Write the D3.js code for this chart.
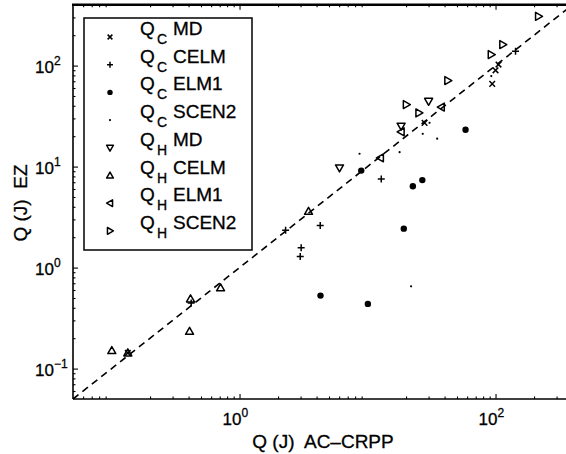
<!DOCTYPE html>
<html><head><meta charset="utf-8">
<script src="https://cdn.jsdelivr.net/npm/d3@7"></script>
<style>
body{margin:0;background:#fff}
svg{display:block}
text{font-family:"Liberation Sans",Arial,Helvetica,sans-serif;fill:#000;stroke:#000;stroke-width:0.3px}
</style>
</head><body><svg id="c" width="566" height="454"></svg>
<script>
// ---- data (Q in J) : [AC-CRPP, EZ] ----
const qcMD    = [[105.5,102.3],[100,89.8],[94.2,65.9],[27.9,27.1],[0.134,0.143]];
const qcCELM  = [[143.3,138.6],[2.29,2.34],[4.27,2.61],[3.03,1.57],[2.98,1.29],[0.419,0.447],[12.8,7.55]];
const qcELM1  = [[58.3,23.2],[26.8,7.35],[22.6,6.38],[19.2,2.43],[4.29,0.528],[10.06,0.437],[8.93,9.13]];
const qcSCEN2 = [[92.6,78.7],[30.5,27.1],[27.0,21.1],[35.0,18.9],[17.8,13.9],[8.66,13.4],[21.9,0.653]];
const qhMD    = [[6.04,9.71],[30.0,44.3],[18.3,25.1]];
const qhCELM  = [[0.1005,0.151],[0.134,0.143],[0.414,0.490],[0.407,0.234],[0.711,0.630],[3.46,3.61]];
const qhELM1  = [[37.7,38.8],[12.6,12.2],[18.3,22.1]];
const qhSCEN2 = [[216.8,307.6],[114,161.4],[92.6,128.5],[42.4,71.0],[20.1,41.1],[25.2,34.0]];

const seriesData   = [qcMD, qcCELM, qcELM1, qcSCEN2, qhMD, qhCELM, qhELM1, qhSCEN2];
const seriesMarker = ["x","plus","dot","point","tdown","tup","tleft","tright"];
const legendMain   = ["Q","Q","Q","Q","Q","Q","Q","Q"];
const legendSub    = ["C","C","C","C","H","H","H","H"];
const legendName   = ["MD","CELM","ELM1","SCEN2","MD","CELM","ELM1","SCEN2"];

const xLim = [0.05, 400], yLim = [0.05, 400];
const xMajor = [1, 100], xMajorExp = ["0","2"];
const yMajor = [0.1, 1, 10, 100], yMajorExp = ["\u22121","0","1","2"];
const xLabel = "Q (J)  AC\u2013CRPP";
const yLabel = "Q (J)  EZ";

// ---- layout ----
const L = 73, B = 399;
const x = d3.scaleLog().domain(xLim).range([L, L + 128*Math.log10(xLim[1]/xLim[0])]);
const y = d3.scaleLog().domain(yLim).range([B, B - 101*Math.log10(yLim[1]/yLim[0])]);
const T = y.range()[1], R = 566;

const svg = d3.select("#c");
svg.append("rect").attr("width",566).attr("height",454).attr("fill","#fff");

function minors(lim){
  const out=[];
  for(let e=-2;e<=3;e++) for(let m=2;m<=9;m++){const v=m*Math.pow(10,e); if(v>lim[0]&&v<lim[1]) out.push(v);}
  return out;
}
const axG = svg.append("g").attr("stroke-width",1.1);
function addAxis(gen, tf){
  const g = axG.append("g").attr("transform",tf).call(gen);
  g.select(".domain").remove();
  g.selectAll("text").remove();
  g.selectAll("line").attr("stroke","#000");
}
addAxis(d3.axisBottom(x).tickValues(xMajor).tickSize(-5), `translate(0,${B})`);
addAxis(d3.axisBottom(x).tickValues(minors(xLim)).tickSize(-2.5), `translate(0,${B})`);
addAxis(d3.axisTop(x).tickValues(xMajor).tickSize(-5), `translate(0,${T})`);
addAxis(d3.axisTop(x).tickValues(minors(xLim)).tickSize(-2.5), `translate(0,${T})`);
addAxis(d3.axisLeft(y).tickValues(yMajor).tickSize(-5), `translate(${L},0)`);
addAxis(d3.axisLeft(y).tickValues(minors(yLim)).tickSize(-2.5), `translate(${L},0)`);

// frame
svg.append("line").attr("x1",L).attr("x2",R).attr("y1",B).attr("y2",B).attr("stroke","#000").attr("stroke-width",1.6);
svg.append("line").attr("x1",L).attr("x2",L).attr("y1",T).attr("y2",B).attr("stroke","#000").attr("stroke-width",1.6);
svg.append("line").attr("x1",L-1).attr("x2",R).attr("y1",T).attr("y2",T).attr("stroke","#000").attr("stroke-width",2.4);

// tick labels
const fs = 17;
xMajor.forEach((v,i)=>{
  const t = svg.append("text").attr("x",x(v)-17).attr("y",B+26).attr("font-size",fs);
  t.append("tspan").text("10");
  t.append("tspan").attr("dy",-8).attr("font-size",12).text(xMajorExp[i]);
});
yMajor.forEach((v,i)=>{
  const t = svg.append("text").attr("x",35).attr("y",y(v)+7).attr("font-size",fs);
  t.append("tspan").text("10");
  t.append("tspan").attr("dy",-8).attr("font-size",12).text(yMajorExp[i]);
});

// axis titles
svg.append("text").attr("x",323).attr("y",448).attr("text-anchor","middle")
  .attr("font-size",19).attr("xml:space","preserve").style("white-space","pre").text(xLabel);
svg.append("text").attr("transform","translate(27,203) rotate(-90)").attr("text-anchor","middle")
  .attr("font-size",19).attr("xml:space","preserve").style("white-space","pre").text(yLabel);

// diagonal y = x
const plotG = svg.append("g");
plotG.append("path").attr("d", d3.line().x(d=>x(d)).y(d=>y(d))([0.05, 400]))
  .attr("fill","none").attr("stroke","#000").attr("stroke-width",1.6).attr("stroke-dasharray","7,5");

// markers
function marker(g, type, cx, cy, k){
  k = k || 1;
  const s = "#000";
  if(type==="x"){
    const a=2.8*k;
    g.append("path").attr("d",`M${cx-a},${cy-a}L${cx+a},${cy+a}M${cx-a},${cy+a}L${cx+a},${cy-a}`).attr("stroke",s).attr("stroke-width",1.5);
  } else if(type==="plus"){
    const a=3.5*k;
    g.append("path").attr("d",`M${cx-a},${cy}L${cx+a},${cy}M${cx},${cy-a}L${cx},${cy+a}`).attr("stroke",s).attr("stroke-width",1.5);
  } else if(type==="dot"){
    g.append("circle").attr("cx",cx).attr("cy",cy).attr("r",3.2*k).attr("fill",s);
  } else if(type==="point"){
    g.append("circle").attr("cx",cx).attr("cy",cy).attr("r",1.1).attr("fill",s);
  } else {
    let p;
    if(type==="tdown") p=[[-4,-3],[4,-3],[0,4]];
    if(type==="tup") p=[[-4,3],[4,3],[0,-4]];
    if(type==="tleft") p=[[-4,0],[3,-4],[3,4]];
    if(type==="tright") p=[[4,0],[-3,-4],[-3,4]];
    g.append("path").attr("d","M"+p.map(q=>(cx+q[0]*k)+","+(cy+q[1]*k)).join("L")+"Z")
      .attr("fill","none").attr("stroke",s).attr("stroke-width",1.5).attr("stroke-linejoin","round");
  }
}
seriesData.forEach((data,i)=>{
  data.forEach(d=>marker(plotG, seriesMarker[i], x(d[0]), y(d[1])));
});

// legend
const lg = svg.append("g");
lg.append("rect").attr("x",84).attr("y",18).attr("width",168).attr("height",232)
  .attr("fill","#fff").attr("stroke","#000").attr("stroke-width",1.5);
legendName.forEach((nm,i)=>{
  const by = 35 + i*27.7;
  marker(lg, seriesMarker[i], 110, by+2, 0.85);
  lg.append("text").attr("x",140).attr("y",by).attr("font-size",19).text(legendMain[i]);
  lg.append("text").attr("x",157).attr("y",by+9).attr("font-size",14).text(legendSub[i]);
  lg.append("text").attr("x",173).attr("y",by).attr("font-size",19).text(nm);
});
</script>
</body></html>
